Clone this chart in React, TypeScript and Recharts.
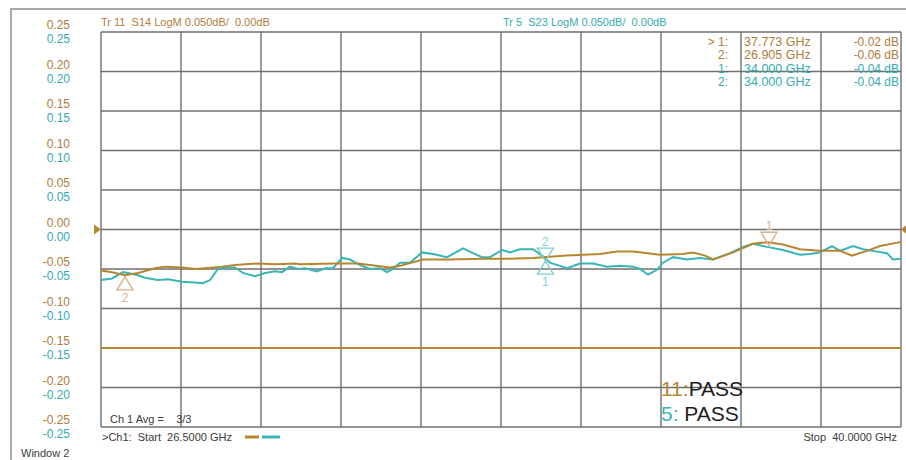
import React from 'react';
import { LineChart, Line, XAxis, YAxis, CartesianGrid, ReferenceLine, ReferenceDot } from 'recharts';

// ---- data ----
const START_GHZ = 26.5;
const STOP_GHZ = 40.0;
const LIMIT_DB = -0.15;
const REF_LEVEL_DB = 0.0;
const Y_TICKS = [0.25, 0.2, 0.15, 0.1, 0.05, 0, -0.05, -0.1, -0.15, -0.2, -0.25];
const X_DIVISIONS = 10;

const S14_FREQ = [26.5, 26.686, 26.905, 27.124, 27.411, 27.58, 27.867, 28.086, 28.255, 28.542, 28.761, 29.149, 29.436, 29.774, 29.858, 30.415, 30.837, 31.377, 31.546, 31.934, 32.389, 32.946, 33.318, 33.79, 34.364, 34.921, 35.208, 35.478, 35.933, 36.322, 36.49, 36.693, 36.828, 37.165, 37.503, 37.756, 38.009, 38.296, 38.633, 38.971, 39.173, 39.426, 39.646, 39.983, 40.0];
const S14_DB = [-0.052, -0.054, -0.058, -0.055, -0.049, -0.047, -0.048, -0.05, -0.049, -0.047, -0.045, -0.043, -0.044, -0.043, -0.044, -0.043, -0.043, -0.048, -0.046, -0.038, -0.038, -0.037, -0.037, -0.036, -0.033, -0.031, -0.028, -0.028, -0.032, -0.031, -0.029, -0.033, -0.038, -0.029, -0.018, -0.016, -0.019, -0.025, -0.027, -0.027, -0.033, -0.027, -0.021, -0.016, -0.016];

const S23_FREQ = [26.5, 26.686, 26.871, 26.956, 27.124, 27.243, 27.462, 27.631, 27.867, 28.086, 28.221, 28.339, 28.474, 28.593, 28.761, 28.896, 29.099, 29.268, 29.436, 29.554, 29.689, 29.824, 29.943, 30.145, 30.28, 30.415, 30.567, 30.702, 30.871, 31.039, 31.208, 31.326, 31.428, 31.546, 31.714, 31.917, 32.103, 32.339, 32.609, 32.777, 32.929, 33.064, 33.267, 33.402, 33.571, 33.79, 33.959, 34.077, 34.364, 34.583, 34.803, 35.039, 35.258, 35.478, 35.596, 35.731, 35.883, 35.984, 36.153, 36.389, 36.608, 36.828, 37.114, 37.334, 37.503, 37.739, 38.009, 38.296, 38.464, 38.633, 38.836, 38.971, 39.19, 39.359, 39.595, 39.764, 39.865, 39.983, 40.0];
const S23_DB = [-0.064, -0.062, -0.054, -0.055, -0.058, -0.061, -0.064, -0.063, -0.066, -0.067, -0.068, -0.064, -0.05, -0.048, -0.048, -0.055, -0.059, -0.055, -0.053, -0.054, -0.047, -0.05, -0.049, -0.053, -0.049, -0.049, -0.036, -0.038, -0.045, -0.05, -0.049, -0.054, -0.05, -0.042, -0.042, -0.029, -0.031, -0.035, -0.024, -0.03, -0.035, -0.035, -0.026, -0.029, -0.025, -0.025, -0.034, -0.042, -0.049, -0.043, -0.043, -0.047, -0.046, -0.047, -0.05, -0.057, -0.051, -0.042, -0.035, -0.038, -0.036, -0.038, -0.03, -0.022, -0.018, -0.022, -0.026, -0.032, -0.031, -0.029, -0.021, -0.027, -0.021, -0.025, -0.028, -0.03, -0.038, -0.037, -0.037];

const S14_MARKER_IDS = [1, 2];
const S14_MARKER_FREQ = [37.773, 26.905];
const S14_MARKER_DB = [-0.02, -0.06];
const S23_MARKER_IDS = [1, 2];
const S23_MARKER_FREQ = [34.0, 34.0];
const S23_MARKER_DB = [-0.04, -0.04];

// ---- styles ----
const BROWN = '#b8862e';
const BROWN_TXT = '#b07c3c';
const BROWN_MK = '#d9b38c';
const TEAL = '#38b5b8';
const TEAL_TXT = '#35abb2';
const TEAL_MK = '#7fcfd2';
const DARK = '#3a3a3a';
const GRID = '#6f6f6f';
const FONT = '"Liberation Sans", Arial, sans-serif';

const X_TICKS = Array.from({ length: X_DIVISIONS + 1 }, (_, i) => START_GHZ + (i * (STOP_GHZ - START_GHZ)) / X_DIVISIONS);

const fmt = (v: number) => (Math.abs(v) < 1e-9 ? '0.00' : v.toFixed(2));

function YTick(props: any) {
  const { y, payload } = props;
  const label = fmt(payload.value);
  return (
    <g>
      <text x={70} y={y - 7} fill={BROWN_TXT} fontSize={12} fontFamily={FONT} textAnchor="end" dominantBaseline="central">{label}</text>
      <text x={70} y={y + 7} fill={TEAL_TXT} fontSize={12} fontFamily={FONT} textAnchor="end" dominantBaseline="central">{label}</text>
    </g>
  );
}

function markerShape(color: string, id: number, above: boolean) {
  return (p: any) => {
    const { cx, cy } = p;
    if (cx == null || cy == null) return <g />;
    const w = 8;
    const h = 13;
    if (above) {
      return (
        <g>
          <path d={`M${cx - w},${cy - h} L${cx + w},${cy - h} L${cx},${cy} Z`} fill="none" stroke={color} strokeWidth={1.4} />
          <text x={cx} y={cy - h - 6} fill={color} fontSize={12} fontFamily={FONT} textAnchor="middle" dominantBaseline="central">{id}</text>
        </g>
      );
    }
    return (
      <g>
        <path d={`M${cx - w},${cy + h} L${cx + w},${cy + h} L${cx},${cy} Z`} fill="none" stroke={color} strokeWidth={1.4} />
        <text x={cx} y={cy + h + 8} fill={color} fontSize={12} fontFamily={FONT} textAnchor="middle" dominantBaseline="central">{id}</text>
      </g>
    );
  };
}

function refTriangle(dir: 'right' | 'left') {
  return (p: any) => {
    const { cx, cy } = p;
    if (cx == null || cy == null) return <g />;
    const d = dir === 'right'
      ? `M${cx - 7},${cy - 5} L${cx},${cy} L${cx - 7},${cy + 5} Z`
      : `M${cx + 6},${cy - 5} L${cx},${cy} L${cx + 6},${cy + 5} Z`;
    return <path d={d} fill={BROWN} stroke="none" />;
  };
}

export default function App() {
  const s14 = S14_FREQ.map((f, i) => ({ f, v: S14_DB[i] }));
  const s23 = S23_FREQ.map((f, i) => ({ f, v: S23_DB[i] }));

  const tableRows = [
    { pre: '> 1:', f: S14_MARKER_FREQ[0], v: S14_MARKER_DB[0], c: BROWN_TXT },
    { pre: '2:', f: S14_MARKER_FREQ[1], v: S14_MARKER_DB[1], c: BROWN_TXT },
    { pre: '1:', f: S23_MARKER_FREQ[0], v: S23_MARKER_DB[0], c: TEAL_TXT },
    { pre: '2:', f: S23_MARKER_FREQ[1], v: S23_MARKER_DB[1], c: TEAL_TXT },
  ];

  return (
    <div style={{ position: 'absolute', left: 0, top: 0, width: 906, height: 460, background: '#ffffff', overflow: 'hidden', fontFamily: FONT }}>
      <div style={{ position: 'absolute', left: 10, top: 8, width: 900, height: 470, border: '2px solid #a9a9a9', boxSizing: 'border-box' }} />
      <div style={{ position: 'absolute', left: 0, top: 0 }}>
        <LineChart width={906} height={460} margin={{ top: 32, right: 5, bottom: 33, left: 11 }}>
          <CartesianGrid stroke={GRID} strokeWidth={1.4} vertical={false} />
          <XAxis type="number" dataKey="f" domain={[START_GHZ, STOP_GHZ]} ticks={X_TICKS} interval={0} tick={false} tickLine={false} axisLine={false} height={0} allowDataOverflow />
          <YAxis type="number" domain={[-0.25, 0.25]} ticks={Y_TICKS} interval={0} width={90} axisLine={false} tickLine={false} tick={YTick} allowDataOverflow />
          {X_TICKS.map((t, i) => (
            <ReferenceLine key={`vx${i}`} x={t} stroke={GRID} strokeWidth={1.4} />
          ))}
          <ReferenceLine y={LIMIT_DB} stroke={BROWN} strokeWidth={2} />
          <Line data={s23} dataKey="v" stroke={TEAL} strokeWidth={2} dot={false} isAnimationActive={false} />
          <Line data={s14} dataKey="v" stroke={BROWN} strokeWidth={2} dot={false} isAnimationActive={false} />
          {S14_MARKER_IDS.map((id, i) => (
            <ReferenceDot key={`b${id}`} x={S14_MARKER_FREQ[i]} y={S14_MARKER_DB[i]} shape={markerShape(BROWN_MK, id, id === 1)} />
          ))}
          {S23_MARKER_IDS.map((id, i) => (
            <ReferenceDot key={`t${id}`} x={S23_MARKER_FREQ[i]} y={S23_MARKER_DB[i]} shape={markerShape(TEAL_MK, id, id === 2)} />
          ))}
          <ReferenceDot x={START_GHZ} y={REF_LEVEL_DB} shape={refTriangle('right')} />
          <ReferenceDot x={STOP_GHZ} y={REF_LEVEL_DB} shape={refTriangle('left')} />
        </LineChart>
      </div>
      <svg width={906} height={460} style={{ position: 'absolute', left: 0, top: 0, pointerEvents: 'none' }} fontFamily={FONT}>
        <text x={101} y={22} fill={BROWN_TXT} fontSize={11} dominantBaseline="central" style={{ whiteSpace: 'pre' }}>{'Tr 11  S14 LogM 0.050dB/  0.00dB'}</text>
        <text x={503} y={22} fill={TEAL_TXT} fontSize={11} dominantBaseline="central" style={{ whiteSpace: 'pre' }}>{'Tr 5  S23 LogM 0.050dB/  0.00dB'}</text>
        {tableRows.map((r, i) => (
          <g key={i}>
            <text x={728} y={41.5 + i * 13.6} fill={r.c} fontSize={12} textAnchor="end" dominantBaseline="central">{r.pre}</text>
            <text x={744} y={41.5 + i * 13.6} fill={r.c} fontSize={12.5} dominantBaseline="central">{`${r.f.toFixed(3)} GHz`}</text>
            <text x={899} y={41.5 + i * 13.6} fill={r.c} fontSize={12} textAnchor="end" dominantBaseline="central">{`${r.v.toFixed(2)} dB`}</text>
          </g>
        ))}
        <text x={110} y={419} fill={DARK} fontSize={11} dominantBaseline="central" style={{ whiteSpace: 'pre' }}>{'Ch 1 Avg =    3/3'}</text>
        <text x={102} y={437} fill={DARK} fontSize={11} dominantBaseline="central" style={{ whiteSpace: 'pre' }}>{`>Ch1:  Start  ${START_GHZ.toFixed(4)} GHz`}</text>
        <line x1={245} x2={259} y1={437} y2={437} stroke={BROWN} strokeWidth={3} />
        <line x1={262} x2={280} y1={437} y2={437} stroke={TEAL} strokeWidth={3} />
        <text x={897} y={437} fill={DARK} fontSize={11} textAnchor="end" dominantBaseline="central" style={{ whiteSpace: 'pre' }}>{`Stop  ${STOP_GHZ.toFixed(4)} GHz`}</text>
        <text x={21} y={453} fill={DARK} fontSize={11} dominantBaseline="central">Window 2</text>
        <text x={661} y={388} fontSize={21} dominantBaseline="central">
          <tspan fill={BROWN}>11:</tspan>
          <tspan fill="#1e1e1e">PASS</tspan>
        </text>
        <text x={661} y={413} fontSize={21} dominantBaseline="central">
          <tspan fill={TEAL}>5: </tspan>
          <tspan fill="#1e1e1e">PASS</tspan>
        </text>
      </svg>
    </div>
  );
}
